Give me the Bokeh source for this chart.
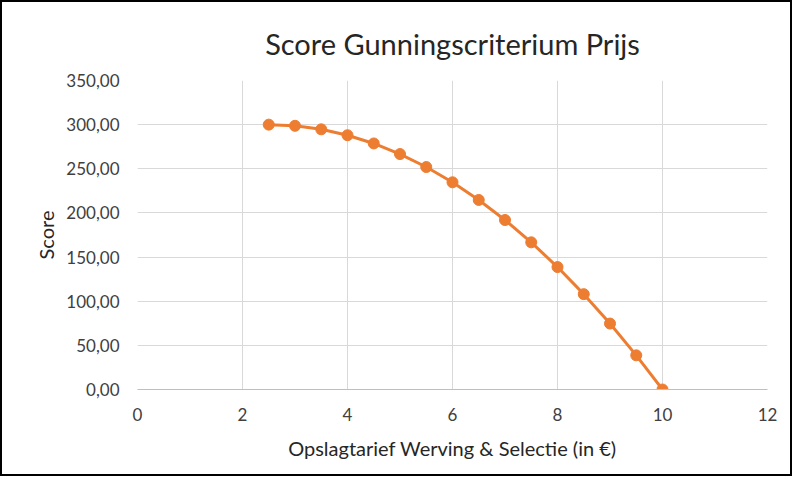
from bokeh.plotting import figure
from bokeh.models import CustomJSTickFormatter, FixedTicker, Range1d
from bokeh.embed import file_html
from bokeh.resources import INLINE

# Data
opslag = [2.5, 3.0, 3.5, 4.0, 4.5, 5.0, 5.5, 6.0, 6.5, 7.0, 7.5, 8.0, 8.5, 9.0, 9.5, 10.0]
score = [300.0, 298.7, 294.7, 288.0, 278.7, 266.7, 252.0, 234.7, 214.7, 192.0,
         166.7, 138.7, 108.0, 74.7, 38.7, 0.0]
x_ticks = [0, 2, 4, 6, 8, 10, 12]
y_ticks = [0, 50, 100, 150, 200, 250, 300, 350]

FONT = "Lato"
ORANGE = "#ED7D31"
TEXT = "#404040"

p = figure(width=788, height=472, output_backend="svg", toolbar_location=None,
           x_range=Range1d(0, 12), y_range=Range1d(0, 350),
           title="Score Gunningscriterium Prijs",
           min_border_left=135, min_border_right=27, min_border_top=78, min_border_bottom=89)
p.styles = {"border": "2px solid #000000", "box-sizing": "content-box"}

p.title.align = "center"
p.title.text_font = FONT
p.title.text_font_size = "29px"
p.title.text_font_style = "normal"
p.title.text_color = "#262626"
p.title.standoff = 40

p.outline_line_color = None
p.background_fill_color = "white"
p.border_fill_color = "white"

p.xaxis.ticker = FixedTicker(ticks=x_ticks)
p.yaxis.ticker = FixedTicker(ticks=y_ticks)
p.yaxis.formatter = CustomJSTickFormatter(code="return tick.toFixed(2).replace('.', ',');")

for ax in (p.xaxis[0], p.yaxis[0]):
    ax.major_tick_line_color = None
    ax.minor_tick_line_color = None
    ax.major_label_text_font = FONT
    ax.major_label_text_font_size = "17px"
    ax.major_label_text_color = TEXT
    ax.axis_label_text_font = FONT
    ax.axis_label_text_font_size = "20px"
    ax.axis_label_text_font_style = "normal"
    ax.axis_label_text_color = "#262626"

p.yaxis.axis_line_color = None
p.xaxis.axis_line_color = "#BFBFBF"
p.xaxis.major_label_standoff = 12
p.yaxis.major_label_standoff = 12
p.xaxis.axis_label = "Opslagtarief Werving & Selectie (in €)"
p.yaxis.axis_label = "Score"
p.xaxis.axis_label_standoff = 12
p.yaxis.axis_label_standoff = 5

p.xgrid.grid_line_color = "#D9D9D9"
p.ygrid.grid_line_color = "#D9D9D9"
p.xgrid.grid_line_width = 1
p.ygrid.grid_line_width = 1

p.line(opslag, score, line_color=ORANGE, line_width=3)
p.scatter(opslag, score, size=11, fill_color=ORANGE, line_color=ORANGE)

open("out.html", "w").write(file_html(p, INLINE))
